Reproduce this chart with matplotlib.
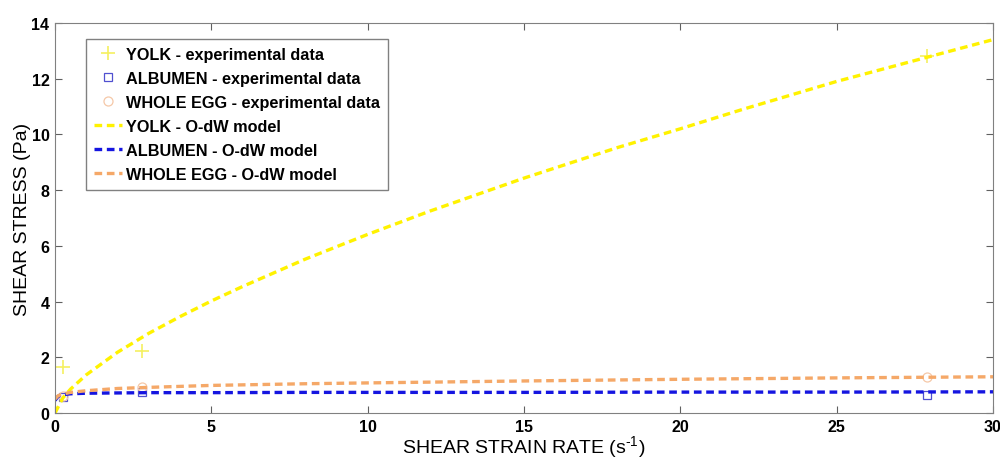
import matplotlib.pyplot as plt
import numpy as np

plt.rcParams['font.family'] = ['Liberation Sans', 'DejaVu Sans']
plt.rcParams['mathtext.fontset'] = 'custom'
plt.rcParams['mathtext.rm'] = 'Liberation Sans'

# experimental data (strain rate, stress)
exp_rate = [0.27, 2.77, 27.9]
yolk_exp = [1.64, 2.24, 12.8]
albumen_exp = [0.57, 0.74, 0.65]
egg_exp = [0.62, 0.95, 1.29]

# model curves
yolk_rate = [0, 0.25, 0.5, 1, 2, 3, 4, 5, 6, 8, 10, 12, 15, 18, 20, 22, 25, 28, 30]
yolk_model = [0, 0.54, 0.86, 1.37, 2.18, 2.86, 3.46, 4.02, 4.54, 5.52, 6.41, 7.25,
              8.43, 9.53, 10.2, 10.9, 11.9, 12.8, 13.4]

model_rate = [0, 0.1, 0.25, 0.5, 1, 2, 3, 5, 8, 10, 15, 20, 25, 30]
albumen_model = [0.45, 0.6, 0.66, 0.69, 0.71, 0.72, 0.73, 0.73, 0.74, 0.74, 0.74, 0.75, 0.75, 0.76]
egg_model = [0.5, 0.62, 0.68, 0.74, 0.8, 0.88, 0.92, 0.99, 1.05, 1.08, 1.15, 1.21, 1.26, 1.30]

fig = plt.figure(figsize=(10, 4.6), dpi=100)
ax = fig.add_axes([0.055, 0.1, 0.938, 0.848])

ax.plot(exp_rate, yolk_exp, '+', color='#F5F060', ms=10, mew=1.2, ls='none',
        label='YOLK - experimental data')
ax.plot(exp_rate, albumen_exp, 's', mfc='none', mec='#5050D0', ms=6, mew=0.9, ls='none',
        label='ALBUMEN - experimental data')
ax.plot(exp_rate, egg_exp, 'o', mfc='none', mec='#F5C8A8', ms=6.5, mew=0.9, ls='none',
        label='WHOLE EGG - experimental data')

dash = (2.3, 1.4)
ax.plot(yolk_rate, yolk_model, color='#FFF200', lw=2.4, dashes=dash, label='YOLK - O-dW model')
ax.plot(model_rate, albumen_model, color='#1515E0', lw=2.4, dashes=dash, label='ALBUMEN - O-dW model')
ax.plot(model_rate, egg_model, color='#F5A868', lw=2.4, dashes=dash, label='WHOLE EGG - O-dW model')

ax.set_xlim(0, 30)
ax.set_ylim(0, 14)
ax.set_xticks(np.arange(0, 31, 5))
ax.set_yticks(np.arange(0, 15, 2))

for s in ax.spines.values():
    s.set_color('#808080')
ax.tick_params(direction='in', length=5, color='#606060', top=True, right=True,
               labelsize=11.5, pad=4)
for lbl in ax.get_xticklabels() + ax.get_yticklabels():
    lbl.set_fontweight('bold')

ax.set_xlabel(r'SHEAR STRAIN RATE (s$^{\mathrm{\text{-1}}}$)', fontsize=14, labelpad=0)
ax.set_ylabel('SHEAR STRESS (Pa)', fontsize=14, labelpad=0)

leg = ax.legend(loc='upper left', bbox_to_anchor=(0.033, 0.959), borderaxespad=0,
                prop={'weight': 'bold', 'size': 11.7}, handlelength=1.7, handletextpad=0.25,
                labelspacing=0.55, borderpad=0.5, fancybox=False, framealpha=1)
leg.get_frame().set_edgecolor('#808080')
leg.get_frame().set_linewidth(1.0)

fig.savefig('out.png', dpi=100)
